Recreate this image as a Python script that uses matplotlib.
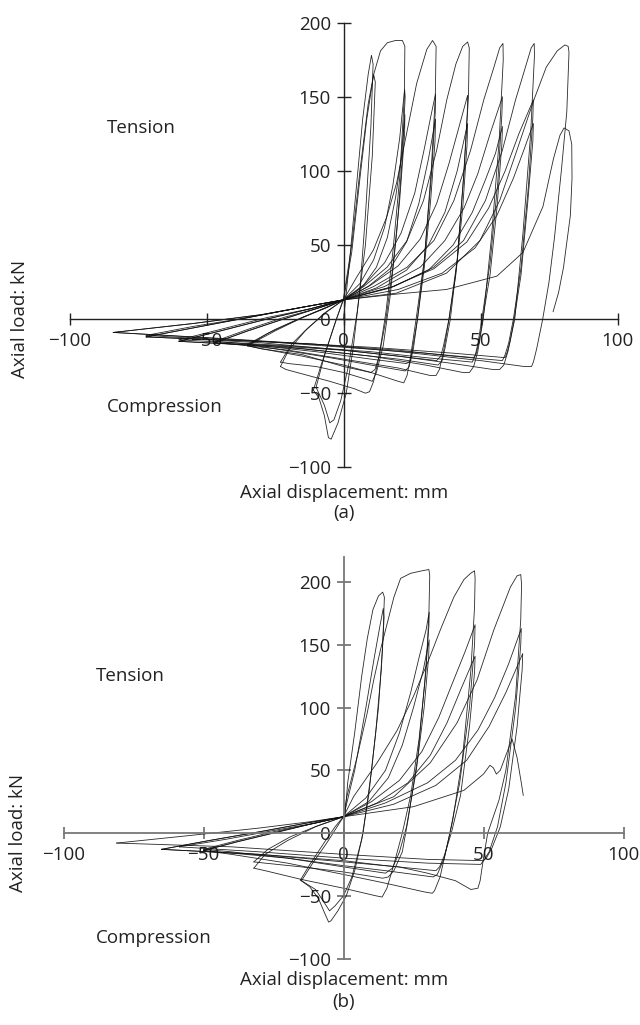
import matplotlib
matplotlib.use("Agg")
import matplotlib.pyplot as plt

plt.rcParams['font.family'] = ['Open Sans', 'DejaVu Sans']
plt.rcParams['font.size'] = 13.5
plt.rcParams['text.color'] = '#222222'

# ---------------- panel (a): cycles (x: mm, y: kN) ----------------
a_s1_x = [0, 2, 4.5, 7, 9, 10.2, 10.8, 10, 8, 6, 3.5, 1, -2, -4.5, -5.5, -7, -9, -11]
a_s1_y = [0, 35, 85, 135, 165, 178, 172, 130, 70, 20, -20, -50, -70, -81, -80, -65, -53, -48]

a_s2_x = [-11, -8, -4, 0, 3, 6, 9, 11, 11.6, 10.5, 8, 5, 2, -1, -3.5, -5, -7, -10]
a_s2_y = [-48, -30, -8, 14, 50, 100, 145, 165, 160, 110, 50, 5, -30, -55, -68, -70, -58, -46]

a_1a_x = [-10, -7, -3, 0, 3, 6, 8.5, 11, 13.5, 16, 19, 21.5, 22.4, 22.2, 20.5, 18, 15.5, 13, 11, 9.5, 8, 4, -5, -15, -21, -23]
a_1a_y = [-46, -25, -2, 13, 45, 95, 135, 165, 181, 186.5, 188, 188, 184, 150, 95, 45, 5, -25, -42, -49, -50, -47, -42, -37, -34, -32]

a_1b_x = [-23, -20, -14, -7, 0, 6, 11, 15, 18, 20.5, 22.3, 22.5, 21.5, 19.5, 17, 14.5, 12, 10.5, 9, 0, -10, -20, -23]
a_1b_y = [-32, -21, -8, 4, 13, 24, 40, 62, 90, 122, 155, 150, 110, 60, 15, -18, -36, -42, -41, -36, -32, -30, -29]

a_1c_x = [-23, -19, -13, -6, 0, 7, 12, 16, 19, 21, 22.4, 22.3, 20.5, 18, 15.5, 13, 11.5, 10, 0, -15, -30, -35]
a_1c_y = [-29, -17, -6, 5, 13, 22, 35, 55, 82, 108, 138, 125, 80, 35, 0, -25, -34, -36, -32, -24, -20, -18]

a_2a_x = [-35, -28, -20, -10, 0, 4.9, 10.9, 15.8, 19.4, 23, 26.7, 30.4, 32.5, 33.8, 33.5, 32, 29.5, 26.5, 24.5, 23.2, 22, 20, 10, 0, -15, -30, -35]
a_2a_y = [-18, -10, -3, 5, 13, 28.6, 46.6, 69, 92, 125, 159, 182, 188, 184, 150, 100, 40, 0, -25, -38, -43, -42, -36, -31, -25, -20, -18]

a_2b_x = [-35, -25, -15, -7, 0, 8, 15, 21, 26, 29.5, 32, 33.6, 33.5, 32, 29.5, 27, 25, 24, 22.5, 10, -5, -25, -35]
a_2b_y = [-18, -8, 1, 7, 13, 24, 38, 58, 85, 115, 138, 152, 140, 95, 40, 0, -22, -32, -35, -31, -26, -20, -17]

a_2c_x = [-35, -25, -14, -6, 0, 9, 17, 23, 27.5, 31, 33.6, 33.4, 31.8, 29.5, 27, 25.5, 24.5, 23, 10, -10, -30, -47]
a_2c_y = [-17, -7, 2, 8, 13, 22, 34, 52, 78, 108, 135, 120, 80, 35, 0, -20, -28, -30, -27, -22, -18, -16]

a_3a_x = [-47, -35, -22, -10, 0, 7.4, 15.9, 23.2, 29.2, 34, 37.7, 41, 43.5, 45.3, 45.9, 45.6, 44, 41.5, 38.5, 36.5, 35, 33.8, 31.5, 20, 0, -20, -40, -47]
a_3a_y = [-16, -8, 0, 7, 13, 22, 35, 53, 80, 114, 148, 172, 184, 187, 183, 150, 100, 40, 0, -22, -34, -38, -38, -33, -27, -21, -17, -16]

a_3b_x = [-47, -35, -22, -10, 0, 10, 20, 28, 34, 38.5, 42.5, 45.3, 45.2, 43.8, 41.5, 39, 37, 36, 34.5, 20, 0, -20, -40, -47]
a_3b_y = [-16, -8, 0, 7, 13, 23, 36, 54, 78, 105, 132, 151, 140, 95, 40, 0, -20, -28, -31, -27, -23, -19, -16, -15]

a_3c_x = [-47, -35, -22, -10, 0, 12, 23, 31, 37, 41.5, 45.3, 45.1, 43.5, 41, 38.5, 36.5, 35.5, 34, 20, 0, -25, -50, -60]
a_3c_y = [-15, -7, 1, 7, 13, 21, 33, 50, 72, 100, 132, 118, 75, 30, 0, -18, -25, -28, -25, -21, -18, -16, -15]

a_4a_x = [-60, -45, -28, -12, 0, 11, 23.2, 33, 40.3, 46.4, 51.2, 54.9, 57, 58.2, 58.3, 56.8, 54, 51, 49, 47.5, 46, 43.5, 30, 10, -15, -40, -60]
a_4a_y = [-15, -8, 0, 7, 13, 22, 35, 53, 80, 114, 148, 170, 183, 186, 175, 120, 55, 0, -22, -32, -36, -36, -31, -25, -20, -17, -15]

a_4b_x = [-60, -45, -28, -12, 0, 15, 28, 37, 44, 49, 53.5, 58, 57.8, 56.3, 53.5, 50.5, 49, 48, 47, 30, 10, -20, -50, -60]
a_4b_y = [-15, -8, 0, 7, 13, 22, 35, 53, 75, 98, 125, 150, 138, 92, 38, 0, -17, -25, -29, -26, -22, -18, -15, -14]

a_4c_x = [-60, -45, -28, -12, 0, 17, 31, 40, 47, 52, 55.5, 58, 57.8, 56, 53.5, 50.8, 49.5, 48.5, 47.5, 30, 0, -30, -60, -72]
a_4c_y = [-14, -7, 1, 7, 13, 21, 33, 50, 72, 95, 112, 130, 118, 75, 30, 0, -15, -23, -26, -23, -19, -15, -13, -12]

a_5a_x = [-72, -55, -35, -15, 0, 18.4, 32.9, 43.8, 51.8, 58, 62.8, 66.4, 68.5, 69.6, 69.7, 68.3, 65.5, 62.5, 60, 58.5, 57, 54.5, 40, 20, 0, -30, -60, -72]
a_5a_y = [-12, -6, 1, 8, 13, 22, 35, 53, 80, 114, 148, 170, 183, 186, 178, 125, 58, 0, -22, -31, -34, -34, -30, -25, -21, -16, -13, -12]

a_5b_x = [-72, -55, -35, -15, 0, 18, 33, 45, 53, 59, 64, 69.3, 69.1, 67.5, 64.8, 62, 60.3, 59, 58, 40, 20, -10, -45, -72]
a_5b_y = [-12, -6, 1, 8, 13, 22, 34, 52, 75, 100, 125, 148, 136, 90, 35, 0, -16, -24, -28, -25, -21, -17, -14, -11]

a_5c_x = [-72, -55, -35, -15, 0, 20, 36, 48, 56, 62, 66, 69.3, 69.1, 67.3, 64.8, 62.3, 60.8, 59.8, 59, 40, 10, -30, -65, -84]
a_5c_y = [-11, -5, 1, 8, 13, 20, 31, 48, 70, 95, 115, 132, 120, 80, 30, 0, -15, -22, -26, -23, -19, -15, -11, -9]

a_6a_x = [-84, -55, -30, -12, 0, 19.3, 37.6, 49.8, 57, 63.3, 69.5, 74, 78, 80.8, 82, 82.3, 81.5, 79.5, 77, 75, 72.7, 70.5, 69.3, 68.6, 66, 50, 20.7, -10, -45, -84]
a_6a_y = [-9, -3, 3, 9, 13, 17.5, 31, 53, 80, 114, 148, 170, 181, 185, 184, 180, 140, 100, 55, 25, 0, -20, -29, -32, -32, -28, -22, -17, -13, -9]

a_end_x = [-84, -55, -30, -12, 0, 20, 37.6, 56, 65.5, 72.8, 76.6, 79, 80.5, 82.3, 83.3, 83.4, 82.8, 80.3, 78.5, 76.5]
a_end_y = [-9, -3, 3, 9, 13, 17, 20, 29, 45, 76, 108, 124, 129, 127, 118, 95, 70, 35, 18, 5]

# ---------------- panel (b) ----------------
b_s1_x = [0, 1.5, 4, 6.5, 8.5, 10.5, 12.5, 14, 14.6, 14, 12.5, 10, 7, 4, 1, -2, -4.5, -5.3, -6.5, -9, -12, -15.4]
b_s1_y = [0, 40, 80, 125, 155, 178, 189, 192, 188, 150, 100, 50, 0, -30, -50, -62, -70, -71, -65, -52, -43, -37.5]

b_s2_x = [-15.4, -12, -7, -3, 0, 4, 8, 11, 13, 14.2, 14.5, 13.5, 11.5, 9, 6.5, 3, 0, -3, -5, -7, -10, -15]
b_s2_y = [-37.5, -25, -8, 5, 13, 50, 100, 140, 165, 179, 172, 130, 80, 30, -5, -35, -50, -58, -62, -55, -45, -38]

b_1a_x = [-15, -11, -6, -2, 0, 1.2, 4.9, 8.5, 10.8, 13.2, 15.6, 18, 20.4, 24, 28, 30.5, 30.8, 30.5, 29.5, 27, 24, 21, 18, 15.5, 13.8, 11.5, 0, -15, -28, -32]
b_1a_y = [-38, -24, -8, 6, 13, 29, 61, 96, 122, 146, 167, 188, 203, 207, 209, 210, 205, 175, 130, 75, 30, 0, -25, -44, -51, -50, -44, -37, -30, -28]

b_1b_x = [-32, -28, -20, -10, 0, 8, 15, 20, 24, 27, 29.5, 30.6, 30.5, 29, 26.5, 23, 21, 18, 16, 14, 0, -15, -28, -32]
b_1b_y = [-28, -17, -6, 5, 13, 28, 50, 80, 112, 140, 162, 176, 165, 120, 60, 10, -15, -30, -35, -36, -31, -27, -24, -23]

b_1c_x = [-32, -27, -19, -9, 0, 9, 16, 21, 25, 28.5, 30.6, 30.4, 28.8, 26, 22.5, 20, 17.5, 15, 0, -20, -40, -50]
b_1c_y = [-23, -13, -3, 6, 13, 25, 44, 70, 100, 130, 154, 140, 100, 50, 5, -15, -28, -32, -27, -20, -16, -14]

b_2a_x = [-50, -38, -25, -12, 0, 3.6, 12, 19.2, 25, 29.9, 34.6, 39.4, 43, 45.4, 46.8, 47, 46.8, 45.5, 42.5, 39, 37, 34.5, 32.5, 31.7, 29, 15, 0, -20, -40, -50]
b_2a_y = [-14, -7, 0, 7, 13, 29, 56, 82, 109, 135, 162, 188, 202, 207, 209, 203, 180, 130, 60, 10, -10, -35, -46, -48, -47, -40, -33, -24, -17, -14]

b_2b_x = [-50, -38, -25, -12, 0, 10, 20, 28, 34, 39, 43.5, 47, 46.8, 45, 41.5, 38, 36, 33.5, 32, 15, 0, -20, -40, -50]
b_2b_y = [-14, -7, 0, 7, 13, 25, 42, 65, 92, 120, 145, 166, 150, 100, 40, 0, -20, -33, -35, -30, -26, -20, -15, -13]

b_2c_x = [-50, -38, -25, -12, 0, 12, 23, 31, 37, 42, 47, 46.8, 45, 41.8, 38.5, 36, 34.3, 33, 15, 0, -30, -65]
b_2c_y = [-13, -6, 1, 7, 13, 24, 40, 62, 88, 115, 141, 128, 85, 30, 0, -18, -27, -30, -26, -22, -17, -13]

b_3a_x = [-65, -48, -30, -13, 0, 18, 31, 40.6, 47.7, 53.7, 59.6, 62, 63.3, 63.6, 63.3, 61.5, 58, 55.5, 51.5, 50, 48.8, 48, 45.5, 40, 30, 19.8, 0, -30, -65]
b_3a_y = [-13, -6, 1, 8, 13, 29, 56, 88, 122, 162, 196, 205, 206, 198, 170, 110, 50, 26, 0, -20, -38, -44, -45, -38, -32, -27, -23, -17, -13]

b_3b_x = [-65, -48, -30, -13, 0, 15, 30, 40, 48, 54, 59, 63.5, 63.3, 61.5, 58, 55, 52, 50, 49, 30, 0, -30, -58.6]
b_3b_y = [-13, -6, 1, 8, 13, 24, 40, 58, 82, 108, 135, 163, 150, 100, 40, 5, -15, -22, -25, -24, -20, -15, -11]

b_3c_x = [-58.6, -42, -25, -10, 0, 18, 33, 44, 52, 58, 64, 63.8, 62, 59, 56, 53, 51, 50, 30, 0, -40, -81]
b_3c_y = [-11, -5, 2, 8, 13, 23, 38, 58, 85, 112, 143, 130, 85, 35, 5, -12, -20, -22, -21, -17, -11, -8]

b_end_x = [-81, -55, -30, -12, 0, 25, 43, 50, 52.3, 53.5, 54.6, 56, 58, 60.2, 62, 63.5, 64.2]
b_end_y = [-8, -2, 4, 9, 13, 21, 34, 47, 54, 52, 47, 50, 62, 75, 60, 40, 30]

x_ticks = [-100, -50, 0, 50, 100]
y_ticks = [-100, -50, 0, 50, 100, 150, 200]

cycles_a = [(a_s1_x, a_s1_y), (a_s2_x, a_s2_y), (a_1a_x, a_1a_y), (a_1b_x, a_1b_y),
            (a_1c_x, a_1c_y), (a_2a_x, a_2a_y), (a_2b_x, a_2b_y), (a_2c_x, a_2c_y),
            (a_3a_x, a_3a_y), (a_3b_x, a_3b_y), (a_3c_x, a_3c_y), (a_4a_x, a_4a_y),
            (a_4b_x, a_4b_y), (a_4c_x, a_4c_y), (a_5a_x, a_5a_y), (a_5b_x, a_5b_y),
            (a_5c_x, a_5c_y), (a_6a_x, a_6a_y), (a_end_x, a_end_y)]
cycles_b = [(b_s1_x, b_s1_y), (b_s2_x, b_s2_y), (b_1a_x, b_1a_y), (b_1b_x, b_1b_y),
            (b_1c_x, b_1c_y), (b_2a_x, b_2a_y), (b_2b_x, b_2b_y), (b_2c_x, b_2c_y),
            (b_3a_x, b_3a_y), (b_3b_x, b_3b_y), (b_3c_x, b_3c_y), (b_end_x, b_end_y)]

W, H = 640, 1025
fig = plt.figure(figsize=(W / 100, H / 100), dpi=100)


def px_box(left, right, top, bottom):
    return [left / W, 1 - bottom / H, (right - left) / W, (bottom - top) / H]


def setup(ax, ylim, axis_color, spine_w):
    ax.set_xlim(-100, 100)
    ax.set_ylim(*ylim)
    ax.patch.set_alpha(0)
    for s in ['top', 'right']:
        ax.spines[s].set_visible(False)
    ax.spines['left'].set_position(('data', 0))
    ax.spines['bottom'].set_position(('data', 0))
    for s in ['left', 'bottom']:
        ax.spines[s].set_color(axis_color)
        ax.spines[s].set_linewidth(spine_w)
    ax.set_xticks(x_ticks)
    ax.set_yticks(y_ticks)
    ax.tick_params(axis='x', direction='inout', length=9, width=spine_w,
                   color=axis_color, pad=5, labelcolor='#222222')
    ax.tick_params(axis='y', direction='inout', length=10, width=spine_w,
                   color=axis_color, pad=4, labelcolor='#222222')


ax_a = fig.add_axes(px_box(69.5, 617.5, 22.7, 467.3))
setup(ax_a, (-100, 200), '#222222', 1.0)
for xs, ys in cycles_a:
    ax_a.plot(xs, ys, color='#111111', lw=0.6, alpha=0.9, clip_on=False)

ax_b = fig.add_axes(px_box(63.5, 623.5, 557, 958.5))
setup(ax_b, (-100, 220), '#777777', 1.3)
for xs, ys in cycles_b:
    ax_b.plot(xs, ys, color='#111111', lw=0.6, alpha=0.9, clip_on=False)


def ftext(x, y, s, **kw):
    fig.text(x / W, 1 - y / H, s, **kw)


# panel (a) texts
ftext(20, 319, 'Axial load: kN', rotation=90, ha='center', va='center')
ftext(344, 493, 'Axial displacement: mm', ha='center', va='center')
ftext(344, 513, '(a)', ha='center', va='center')
ftext(107, 128, 'Tension', ha='left', va='center')
ftext(107, 407, 'Compression', ha='left', va='center')

# panel (b) texts
ftext(18, 833, 'Axial load: kN', rotation=90, ha='center', va='center')
ftext(344, 980, 'Axial displacement: mm', ha='center', va='center')
ftext(344, 1002, '(b)', ha='center', va='center')
ftext(96, 676, 'Tension', ha='left', va='center')
ftext(96, 938, 'Compression', ha='left', va='center')

fig.savefig('out.png', dpi=100)
